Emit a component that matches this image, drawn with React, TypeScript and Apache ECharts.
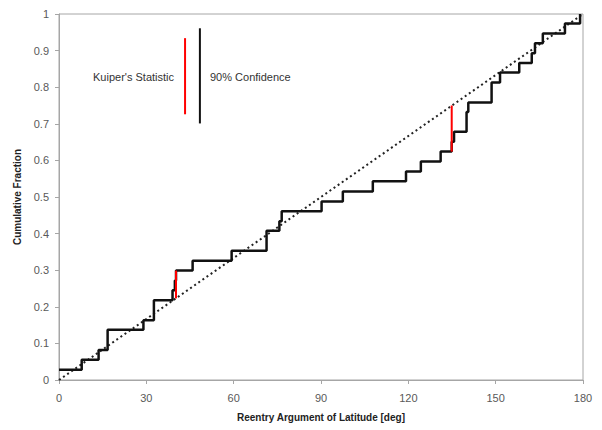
import React, { useEffect, useRef } from "react";
import * as echarts from "echarts";

// Empirical CDF: angle (deg) where each jump occurs, and the level after the jump
const jumpDeg = [0, 7.8, 13.6, 16.7, 29.0, 32.6, 39.0, 39.8, 40.2, 45.9, 59.3, 71.3, 75.7, 76.5, 90.2, 97.5, 107.8, 119.2, 124.3, 131.1, 134.9, 135.7, 140.0, 140.6, 148.6, 151.5, 158.1, 162.4, 163.5, 166.2, 173.8, 179.0];
const cdfLevels = [0.028, 0.055, 0.082, 0.137, 0.163, 0.218, 0.245, 0.272, 0.299, 0.326, 0.353, 0.408, 0.434, 0.461, 0.488, 0.515, 0.543, 0.570, 0.597, 0.624, 0.651, 0.678, 0.732, 0.758, 0.813, 0.840, 0.866, 0.893, 0.920, 0.947, 0.974, 1.0];

// Uniform reference CDF (dotted diagonal)
const uniformX = [0, 180];
const uniformY = [0, 1];

// Kuiper's statistic segments (red)
const kuiper1X = 40.2;
const kuiper1Y = [0.223, 0.299];
const kuiper2X = 134.9;
const kuiper2Y = [0.624, 0.75];

// Legend-like annotation bars
const legendRedX = 43.3;
const legendRedY = [0.726, 0.934];
const legendBlackX = 48.4;
const legendBlackY = [0.701, 0.961];

const xTicks = [0, 30, 60, 90, 120, 150, 180];
const yTicks = [0, 0.1, 0.2, 0.3, 0.4, 0.5, 0.6, 0.7, 0.8, 0.9, 1];

const labelKuiper = "Kuiper's Statistic";
const labelConf = "90% Confidence";
const xTitle = "Reentry Argument of Latitude [deg]";
const yTitle = "Cumulative Fraction";

export default function App() {
  const ref = useRef<HTMLDivElement>(null);
  useEffect(() => {
    if (!ref.current) return;
    const chart = echarts.init(ref.current, null, { renderer: "svg" });
    const font = "'Liberation Sans', Arial, sans-serif";
    const stepData = jumpDeg.map((x, i) => [x, cdfLevels[i]]);
    chart.setOption({
      animation: false,
      backgroundColor: "#ffffff",
      grid: {
        left: 59,
        right: 19,
        top: 14,
        bottom: 50,
        show: true,
        borderColor: "#a6a6a6",
        borderWidth: 1,
        backgroundColor: "transparent",
      },
      xAxis: {
        type: "value",
        min: xTicks[0],
        max: xTicks[xTicks.length - 1],
        interval: 30,
        name: xTitle,
        nameLocation: "middle",
        nameGap: 32,
        nameTextStyle: { fontFamily: font, fontSize: 10, fontWeight: "bold", color: "#222" },
        axisLine: { lineStyle: { color: "#a6a6a6", width: 1 } },
        axisTick: { show: true, length: 4, lineStyle: { color: "#a6a6a6" } },
        axisLabel: { fontFamily: font, fontSize: 11, color: "#595959", margin: 12 },
        splitLine: { show: false },
      },
      yAxis: {
        type: "value",
        min: yTicks[0],
        max: yTicks[yTicks.length - 1],
        interval: 0.1,
        name: yTitle,
        nameLocation: "middle",
        nameGap: 33,
        nameTextStyle: { fontFamily: font, fontSize: 10, fontWeight: "bold", color: "#222" },
        axisLine: { show: true, lineStyle: { color: "#a6a6a6", width: 1 } },
        axisTick: { show: true, length: 4, lineStyle: { color: "#a6a6a6" } },
        axisLabel: { fontFamily: font, fontSize: 11, color: "#595959", margin: 10 },
        splitLine: { show: false },
      },
      series: [
        {
          type: "line",
          data: uniformX.map((x, i) => [x, uniformY[i]]),
          showSymbol: false,
          lineStyle: { color: "#222", width: 2, type: [2, 3] },
          z: 2,
        },
        {
          type: "line",
          step: "end",
          data: stepData,
          showSymbol: false,
          lineStyle: { color: "#111", width: 2.5 },
          z: 3,
        },
        {
          type: "line",
          data: kuiper1Y.map((y) => [kuiper1X, y]),
          showSymbol: false,
          lineStyle: { color: "#ff0000", width: 2 },
          z: 4,
        },
        {
          type: "line",
          data: kuiper2Y.map((y) => [kuiper2X, y]),
          showSymbol: false,
          lineStyle: { color: "#ff0000", width: 2 },
          z: 4,
        },
        {
          type: "line",
          data: legendRedY.map((y) => [legendRedX, y]),
          showSymbol: false,
          lineStyle: { color: "#ff0000", width: 2 },
          z: 4,
        },
        {
          type: "line",
          data: legendBlackY.map((y) => [legendBlackX, y]),
          showSymbol: false,
          lineStyle: { color: "#111", width: 2 },
          z: 4,
        },
      ],
      graphic: [
        {
          type: "text",
          x: 174,
          y: 77,
          style: {
            text: labelKuiper,
            fontFamily: font,
            fontSize: 11,
            fill: "#333",
            align: "right",
            verticalAlign: "middle",
          },
        },
        {
          type: "text",
          x: 210,
          y: 77,
          style: {
            text: labelConf,
            fontFamily: font,
            fontSize: 11,
            fill: "#333",
            align: "left",
            verticalAlign: "middle",
          },
        },
      ],
    });
    return () => chart.dispose();
  }, []);
  return <div ref={ref} style={{ width: 602, height: 430, position: "absolute", left: 0, top: 0 }} />;
}
